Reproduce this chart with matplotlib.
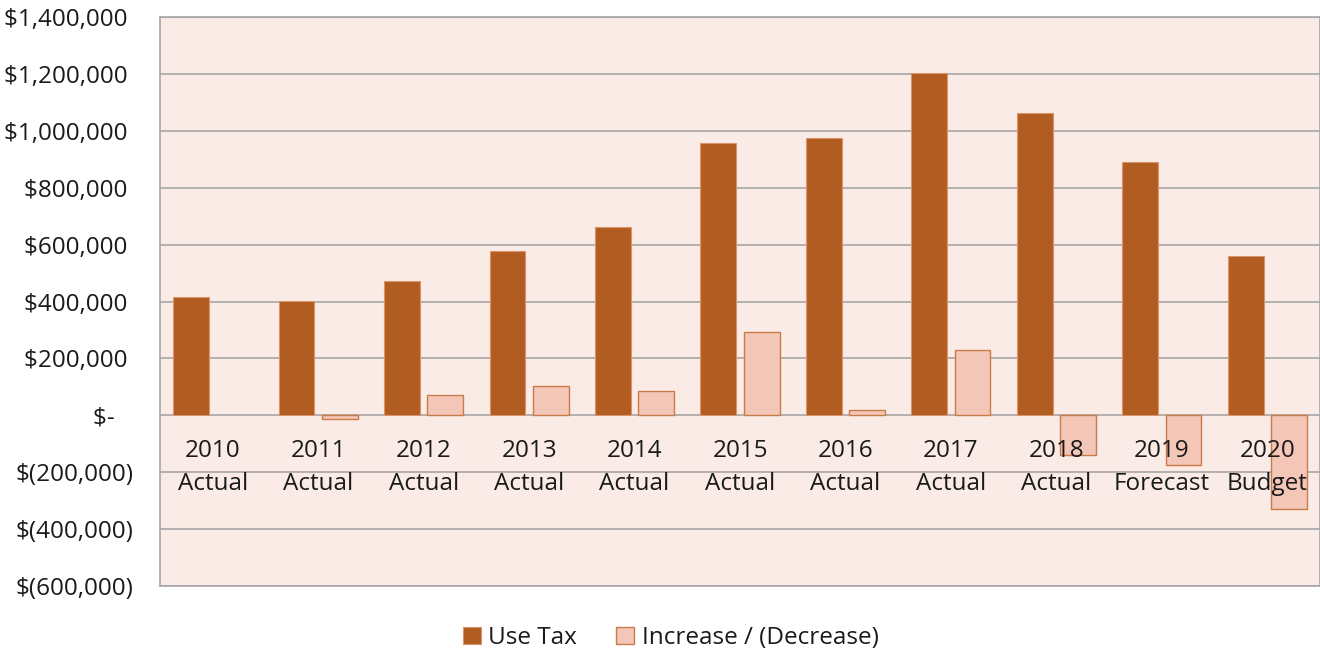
import matplotlib.pyplot as plt
from matplotlib.ticker import FuncFormatter, MultipleLocator
import numpy as np

# Data
years = ["2010", "2011", "2012", "2013", "2014", "2015", "2016", "2017", "2018", "2019", "2020"]
kinds = ["Actual", "Actual", "Actual", "Actual", "Actual", "Actual", "Actual", "Actual", "Actual", "Forecast", "Budget"]
use_tax = [415000, 401000, 473500, 576500, 663500, 956000, 975000, 1204500, 1064000, 889300, 560300]
change = [np.nan, -14000, 72500, 103000, 87000, 292500, 19000, 229500, -140500, -174700, -329000]

dark = "#B15C21"
light = "#F4C6B8"
light_edge = "#C97B47"
bg = "#FBEBE6"
grid_col = "#A6A6A6"

plt.rcParams['font.family'] = ['Open Sans', 'DejaVu Sans']

fig = plt.figure(figsize=(13.2, 6.55), dpi=100)
ax = fig.add_axes([160 / 1320, 1 - 586 / 655, 1160 / 1320, (586 - 17) / 655])
ax.set_facecolor(bg)

x = np.arange(len(years))
w = 0.34
off = 0.205
ax.bar(x - off, use_tax, w, color=dark, edgecolor="#D9946A", linewidth=0.8, label="Use Tax", zorder=3)
ax.bar(x + off, change, w, color=light, edgecolor=light_edge, linewidth=1.0,
       label="Increase / (Decrease)", zorder=3)

ax.set_xlim(-0.5, len(years) - 0.5)
ax.set_ylim(-600000, 1400000)
ax.yaxis.set_major_locator(MultipleLocator(200000))
ax.grid(axis='y', color=grid_col, linewidth=1.2, zorder=1)
ax.set_axisbelow(True)


def money(v, pos):
    if abs(v) < 1:
        return "$-   "
    if v < 0:
        return "$({:,.0f})".format(-v)
    return "${:,.0f} ".format(v)


ax.yaxis.set_major_formatter(FuncFormatter(money))
ax.tick_params(axis='y', length=0, pad=19, labelsize=17.5, labelcolor="#1a1a1a")
ax.set_xticks([])

for sp in ax.spines.values():
    sp.set_color(grid_col)
    sp.set_linewidth(1.2)

# category labels sit just under the zero line, like Excel does
for i in x:
    ax.annotate(years[i] + "\n" + kinds[i], xy=(i, 0), xytext=(0, -17), textcoords='offset points',
                ha='center', va='top', fontsize=17.5, color="#1a1a1a", linespacing=1.5, zorder=4)

fig.legend(loc='center', bbox_to_anchor=(0.508, 0.026), ncol=2, frameon=False, fontsize=17.5,
           handlelength=0.75, handleheight=0.75, handletextpad=0.3, columnspacing=1.6,
           labelcolor="#1a1a1a")

fig.savefig("out.png", dpi=100, facecolor="white")
